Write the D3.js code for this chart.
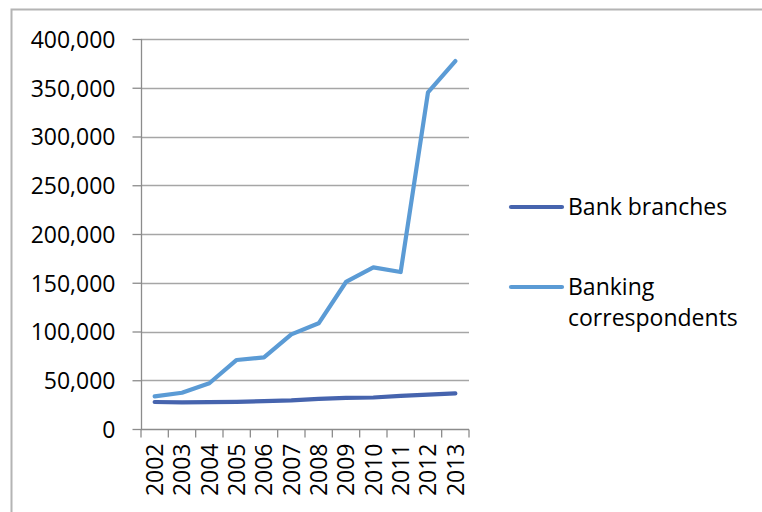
<!DOCTYPE html>
<html>
<head>
<meta charset="utf-8">
<script src="https://cdn.jsdelivr.net/npm/d3@7"></script>
<style>
  body { margin: 0; background: #fff; }
  svg text { font-family: "Open Sans", sans-serif; fill: #000; }
</style>
</head>
<body>
<div id="chart"></div>
<script>
// chart data
const years = ["2002", "2003", "2004", "2005", "2006", "2007", "2008", "2009", "2010", "2011", "2012", "2013"];
const bankBranches = [27700, 27400, 27600, 27900, 28500, 29300, 30800, 32000, 32300, 34000, 35200, 36600];
const bankingCorrespondents = [33500, 37200, 46900, 70800, 73500, 97100, 108400, 150800, 165800, 161000, 345300, 377400];
const yTicks = [0, 50000, 100000, 150000, 200000, 250000, 300000, 350000, 400000];
const seriesNames = ["Bank branches", "Banking correspondents"];
const seriesColors = ["#4664ae", "#5b9bd5"];

const width = 762, height = 512;
const plot = {left: 141, right: 469, top: 39, bottom: 429};

const svg = d3.select("#chart").append("svg")
  .attr("width", width)
  .attr("height", height);

// outer frame, only top and left edges are inside the picture
svg.append("rect")
  .attr("x", 11.5).attr("y", 9.5)
  .attr("width", width + 20).attr("height", height + 20)
  .attr("fill", "none")
  .attr("stroke", "#b4b4b4")
  .attr("stroke-width", 2);

const x = d3.scaleBand().domain(years).range([plot.left, plot.right]);
const y = d3.scaleLinear().domain([0, 400000]).range([plot.bottom, plot.top]);

// gridlines
svg.append("g")
  .selectAll("line")
  .data(yTicks.slice(1))
  .join("line")
  .attr("x1", plot.left).attr("x2", plot.right)
  .attr("y1", d => Math.round(y(d)) + 0.5).attr("y2", d => Math.round(y(d)) + 0.5)
  .attr("stroke", "#a6a6a6")
  .attr("stroke-width", 1.3);

// y axis
const yAxis = svg.append("g")
  .attr("transform", "translate(" + (plot.left + 0.5) + ",0)")
  .call(d3.axisLeft(y).tickValues(yTicks).tickSize(9).tickPadding(17)
    .tickFormat(d3.format(",")));
yAxis.selectAll("line").attr("stroke", "#8c8c8c").attr("stroke-width", 1.3);
yAxis.select(".domain").attr("stroke", "#8c8c8c").attr("stroke-width", 1.3)
  .attr("d", "M0," + plot.top + "V" + plot.bottom);
yAxis.selectAll("text")
  .style("font-size", "23px")
  .style("font-family", "'Open Sans', sans-serif")
  .attr("fill", "#000")
  .attr("dy", "0.36em");

// x axis
const xAxis = svg.append("g")
  .attr("transform", "translate(0," + (Math.round(plot.bottom) + 0.5) + ")");
xAxis.append("line")
  .attr("x1", plot.left).attr("x2", plot.right)
  .attr("stroke", "#8c8c8c").attr("stroke-width", 1.3);
xAxis.selectAll(".tick")
  .data(years.concat(["end"]))
  .join("line")
  .attr("class", "tick")
  .attr("x1", (d, i) => i < years.length ? x(d) : plot.right)
  .attr("x2", (d, i) => i < years.length ? x(d) : plot.right)
  .attr("y1", 0).attr("y2", 8)
  .attr("stroke", "#8c8c8c").attr("stroke-width", 1.3);
xAxis.selectAll("text")
  .data(years)
  .join("text")
  .attr("transform", d => "translate(" + (x(d) + x.bandwidth() / 2) + ",14) rotate(-90)")
  .attr("text-anchor", "end")
  .attr("dy", "0.36em")
  .style("font-size", "23px")
  .text(d => d);

// lines
const line = d3.line()
  .x((d, i) => x(years[i]) + x.bandwidth() / 2)
  .y(d => y(d));

[bankBranches, bankingCorrespondents].forEach((vals, k) => {
  svg.append("path")
    .datum(vals)
    .attr("d", line)
    .attr("fill", "none")
    .attr("stroke", seriesColors[k])
    .attr("stroke-width", 4.2)
    .attr("stroke-linejoin", "round")
    .attr("stroke-linecap", "round");
});

// legend
const legend = svg.append("g");
const legendY = [207, 287];
seriesNames.forEach((name, k) => {
  legend.append("line")
    .attr("x1", 511).attr("x2", 562)
    .attr("y1", legendY[k]).attr("y2", legendY[k])
    .attr("stroke", seriesColors[k])
    .attr("stroke-width", 4.2)
    .attr("stroke-linecap", "round");
  const t = legend.append("text")
    .attr("x", 568).attr("y", legendY[k])
    .attr("dy", "0.36em")
    .style("font-size", "23px");
  if (k === 0) {
    t.text(name);
  } else {
    t.append("tspan").attr("x", 568).text("Banking");
    t.append("tspan").attr("x", 568).attr("dy", "1.35em").text("correspondents");
  }
});
</script>
</body>
</html>
